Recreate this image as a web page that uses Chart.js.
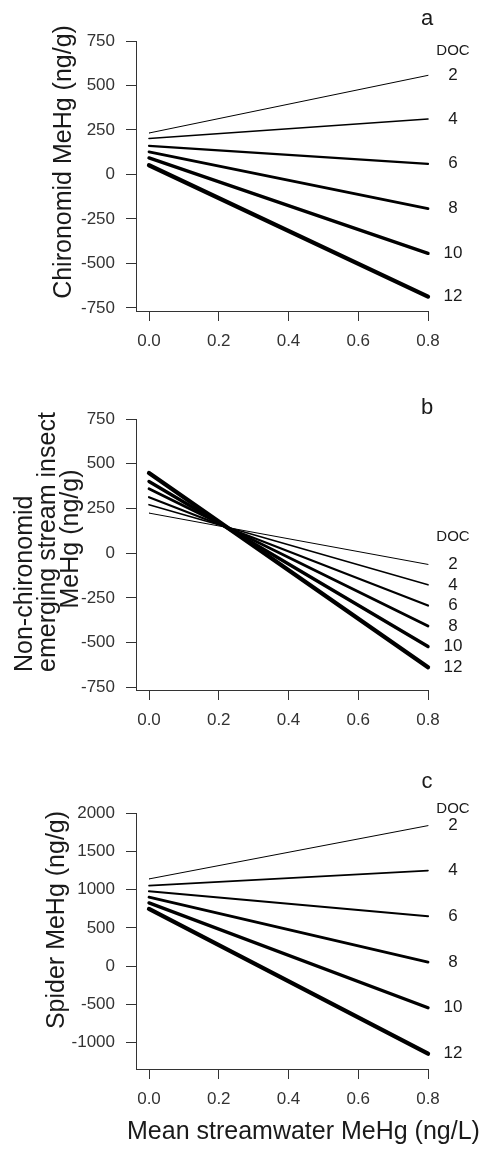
<!DOCTYPE html>
<html lang="en">
<head>
  <meta charset="UTF-8">
  <title>Consumer MeHg vs streamwater MeHg by DOC</title>
  <script src="https://cdn.jsdelivr.net/npm/chart.js"></script>
  <style>
    body { margin: 0; background: #fff; }
    #wrap { position: relative; width: 487px; height: 1150px; }
    canvas { position: absolute; left: 0; }
  </style>
</head>
<body>
<div id="wrap">
  <canvas id="panelA" width="487" height="365" style="top:0px"></canvas>
  <canvas id="panelB" width="487" height="385" style="top:365px"></canvas>
  <canvas id="panelC" width="487" height="400" style="top:750px"></canvas>
</div>
<script>
  // DOC levels, one fitted line each
  const docLevels = [2, 4, 6, 8, 10, 12];
  // ends of the fitted lines (mean streamwater MeHg, ng/L)
  const streamMeHg = [0, 0.8];
  const xTicks = [0, 0.2, 0.4, 0.6, 0.8];

  // a - chironomid MeHg (ng/g) at 0.0 and at 0.8
  const chironomidAt0 = [233, 202, 161, 127, 93, 52];
  const chironomidAt08 = [557, 312, 60, -192, -443, -686];
  const chironomidTicks = [-750, -500, -250, 0, 250, 500, 750];

  // b - non-chironomid emerging insects
  const insectAt0 = [224, 271, 313, 360, 401, 448];
  const insectAt08 = [-63, -177, -293, -407, -522, -638];
  const insectTicks = [-750, -500, -250, 0, 250, 500, 750];

  // c - spiders
  const spiderAt0 = [1139, 1052, 978, 900, 826, 748];
  const spiderAt08 = [1835, 1248, 652, 52, -543, -1143];
  const spiderTicks = [-1000, -500, 0, 500, 1000, 1500, 2000];

  const lineWidths = [1, 1.6, 2.2, 2.8, 3.4, 4.3];
  const FONT = "'Liberation Sans', Arial, sans-serif";
  const INK = '#1a1a1a';

  // letters, DOC key, end labels and axis titles
  const panelText = {
    id: 'panelText',
    afterDraw(chart, args, opts) {
      const ctx = chart.ctx;
      const xs = chart.scales.x, ys = chart.scales.y;
      const endX = xs.getPixelForValue(streamMeHg[streamMeHg.length - 1]);
      ctx.save();
      ctx.fillStyle = INK;
      ctx.textAlign = 'center';
      ctx.textBaseline = 'middle';

      ctx.font = '22px ' + FONT;
      ctx.fillText(opts.letter, endX - 1, opts.letterY);

      ctx.font = '15px ' + FONT;
      ctx.fillText('DOC', endX + 25, opts.docY);
      ctx.font = '17px ' + FONT;
      chart.data.datasets.forEach(ds => {
        const last = ds.data[ds.data.length - 1];
        ctx.fillText(ds.label, endX + 25, ys.getPixelForValue(last.y));
      });

      ctx.font = '25px ' + FONT;
      opts.yTitle.forEach(t => {
        ctx.save();
        ctx.translate(t.x, t.y);
        ctx.rotate(-Math.PI / 2);
        ctx.textAlign = t.align || 'center';
        ctx.fillText(t.text, 0, 0);
        ctx.restore();
      });
      if (opts.xTitle) {
        ctx.textAlign = 'left';
        ctx.fillText(opts.xTitle.text, opts.xTitle.x, opts.xTitle.y);
      }
      ctx.restore();
    }
  };

  function makePanel(id, at0, at08, yTicks, box, text) {
    const datasets = docLevels.map((doc, i) => ({
      label: String(doc),
      data: streamMeHg.map((x, j) => ({ x: x, y: j === 0 ? at0[i] : at08[i] })),
      borderColor: '#000',
      borderWidth: lineWidths[i],
      borderCapStyle: 'round',
      pointRadius: 0,
      clip: false
    }));
    const axisColor = '#333';
    const tickFont = { family: FONT, size: 17 };
    return new Chart(document.getElementById(id), {
      type: 'line',
      data: { datasets: datasets },
      options: {
        responsive: false,
        animation: false,
        layout: { padding: { top: box.top, right: 59, left: 0, bottom: 0 } },
        plugins: { legend: { display: false }, tooltip: { enabled: false }, panelText: text },
        scales: {
          x: {
            type: 'linear',
            min: -0.0373,
            max: 0.8,
            afterBuildTicks: s => { s.ticks = xTicks.map(v => ({ value: v })); },
            afterFit: s => { s.height = box.xHeight; },
            ticks: { callback: v => v.toFixed(1), font: tickFont, color: axisColor, padding: 10, maxRotation: 0 },
            grid: { drawOnChartArea: false, tickLength: 10, color: axisColor },
            border: { color: axisColor, width: 1 }
          },
          y: {
            min: box.yMin,
            max: box.yMax,
            afterBuildTicks: s => { s.ticks = yTicks.map(v => ({ value: v })); },
            afterFit: s => { s.width = 136; },
            ticks: { callback: v => String(v), font: tickFont, color: axisColor, padding: 11 },
            grid: { drawOnChartArea: false, tickLength: 10, color: axisColor },
            border: { color: axisColor, width: 1 }
          }
        }
      },
      plugins: [panelText]
    });
  }

  makePanel('panelA', chironomidAt0, chironomidAt08, chironomidTicks,
    { top: 41, xHeight: 54, yMin: -767, yMax: 750 },
    { letter: 'a', letterY: 19, docY: 51,
      yTitle: [{ text: 'Chironomid MeHg (ng/g)', x: 64, y: 162 }] });

  makePanel('panelB', insectAt0, insectAt08, insectTicks,
    { top: 54, xHeight: 60, yMin: -765, yMax: 750 },
    { letter: 'b', letterY: 43, docY: 172,
      yTitle: [
        { text: 'Non-chironomid', x: 25, y: 307, align: 'left' },
        { text: 'emerging stream insect', x: 48, y: 307, align: 'left' },
        { text: 'MeHg (ng/g)', x: 71, y: 174 }
      ] });

  makePanel('panelC', spiderAt0, spiderAt08, spiderTicks,
    { top: 63, xHeight: 81, yMin: -1343, yMax: 2000 },
    { letter: 'c', letterY: 32, docY: 59,
      yTitle: [{ text: 'Spider MeHg (ng/g)', x: 57, y: 170 }],
      xTitle: { text: 'Mean streamwater MeHg (ng/L)', x: 127, y: 382 } });
</script>
</body>
</html>
